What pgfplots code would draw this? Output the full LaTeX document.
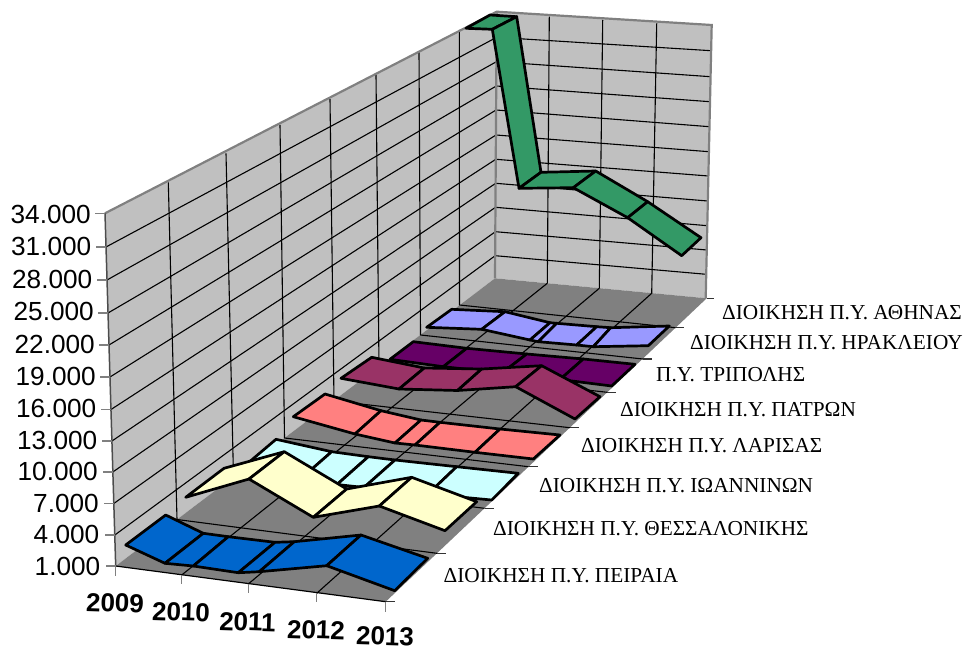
\documentclass[border=0pt]{standalone}
\usepackage{fontspec}
\setmainfont{Liberation Serif}
\newfontfamily\arialf{Liberation Sans}
\usepackage{pgfplots}
\pgfplotsset{compat=1.18}
\definecolor{wallc}{HTML}{C0C0C0}
\definecolor{floorc}{HTML}{808080}
\definecolor{cgreen}{HTML}{339966}
\definecolor{clav}{HTML}{9999FF}
\definecolor{cpurple}{HTML}{660066}
\definecolor{cplum}{HTML}{993366}
\definecolor{csalmon}{HTML}{FF8080}
\definecolor{ccyan}{HTML}{CCFFFF}
\definecolor{cyellow}{HTML}{FFFFCC}
\definecolor{cblue}{HTML}{0066CC}
% one ribbon panel: front-left, back-left, back-right, front-right
\newcommand{\pnl}[5]{\addplot[fill=#1,draw=black,line width=2.7bp,line join=round] coordinates {(#2)(#3)(#4)(#5)} -- cycle;}
\newcommand{\gl}[2]{\addplot[black,line width=1.1bp] coordinates {(#1)(#2)};}
\newcommand{\tk}[2]{\addplot[floorc,line width=1.5bp] coordinates {(#1)(#2)};}
\newcommand{\tr}[2]{\addplot[black!80,line width=1.1bp] coordinates {(#1)(#2)};}
\newcommand{\ser}[2]{\node[anchor=west,font=\fontsize{21.3bp}{24bp}\selectfont,inner sep=0pt] at (axis cs:#1) {#2};}
\newcommand{\vall}[2]{\node[anchor=east,font=\fontsize{26.2bp}{30bp}\selectfont\arialf,inner sep=0pt] at (axis cs:#1) {#2};}
\newcommand{\yr}[2]{\node[anchor=center,rotate=-1.8,font=\fontsize{26bp}{30bp}\selectfont\arialf\bfseries,inner sep=0pt] at (axis cs:#1) {#2};}
\begin{document}
\begin{tikzpicture}
\begin{axis}[scale only axis,width=968bp,height=649bp,xmin=0,xmax=968,ymin=0,ymax=649,y dir=reverse,hide axis,clip=false]
% walls and floor
\addplot[fill=wallc,draw=none] coordinates {(105,213.3)(496.7,11.7)(495,278.3)(115.7,566)} -- cycle;
\addplot[fill=wallc,draw=none] coordinates {(496.7,11.7)(711.7,25)(705.7,298.3)(495,278.3)} -- cycle;
\addplot[fill=floorc,draw=none] coordinates {(115.7,566)(385.7,601.7)(706.7,298.3)(495,278.3)} -- cycle;
% left wall horizontals
\gl{114.8,535}{495.2,255.7}
\gl{113.8,503.5}{495.4,231.7}
\gl{112.8,472}{495.5,207.3}
\gl{111.9,441}{495.7,183.3}
\gl{111,409.5}{495.8,159.3}
\gl{110,377}{496,135}
\gl{109,345}{496.1,110}
\gl{108,313}{496.3,86}
\gl{107,280}{496.4,61.7}
\gl{106,247}{496.6,37.3}
% left wall verticals
\gl{168.3,182.3}{177,519.5}
\gl{226,153.3}{233.5,477}
\gl{280,125}{284.5,438}
\gl{330,99}{334,401}
\gl{376,75}{379,366.6}
\gl{419,51.7}{420.5,335}
\gl{459.3,30}{459.5,305}
% back wall horizontals
\gl{495.2,255.7}{706.2,274.3}
\gl{495.4,231.7}{706.8,250}
\gl{495.5,207.3}{707.3,225.7}
\gl{495.7,183.3}{707.8,201}
\gl{495.8,159.3}{708.4,176}
\gl{496,135}{708.9,151.7}
\gl{496.1,110}{709.5,126.7}
\gl{496.3,86}{710,101.7}
\gl{496.4,61.7}{710.6,76.7}
\gl{496.6,37.3}{711.1,50.7}
% back wall verticals
\gl{549.3,16.7}{547.3,283.3}
\gl{602.7,20}{599.3,288.3}
\gl{656.7,23.3}{651.7,293.3}
% wall edges
\addplot[floorc,line width=2.2bp] coordinates {(105,213.3)(496.7,11.7)(711.7,25)(705.7,298.3)};
\addplot[floorc,line width=2.2bp] coordinates {(496.7,11.7)(495,278.3)};
\addplot[black!70,line width=1.5bp] coordinates {(105,213.3)(115.7,566)};
% floor lines (years)
\gl{547.3,283.3}{181.7,575}
\gl{599.3,288.3}{248.3,584}
\gl{651.7,293.3}{316.7,593.3}
% floor lines (series)
\gl{177,519.5}{436.9,553.3}
\gl{233.5,477}{484.5,508.3}
\gl{284.5,438}{528.5,466.7}
\gl{334,401}{569.8,427.7}
\gl{379,366.6}{607.2,392.3}
\gl{420.5,335}{642.9,359}
\gl{459.5,305}{675.6,327.7}
\addplot[black,line width=1.2bp] coordinates {(115.7,566)(385.7,601.7)};
% ticks
\tk{106,566}{115.7,566}\tk{105.2,535}{114.8,535}\tk{104.2,503.5}{113.8,503.5}\tk{103.2,472}{112.8,472}
\tk{102.3,441}{111.9,441}\tk{101.4,409.5}{111,409.5}\tk{100.4,377}{110,377}\tk{99.4,345}{109,345}
\tk{98.4,313}{108,313}\tk{97.4,280}{107,280}\tk{96.4,247}{106,247}\tk{95,213.3}{105,213.3}
\tk{115.7,566}{115.7,575.7}\tk{181.7,575}{181.7,584}\tk{248.3,584}{248.3,593.3}\tk{316.7,593.3}{316.7,602.3}\tk{385.7,601.7}{385.7,611.7}
\tr{385.7,601.7}{395,601.7}\tr{436.9,553.3}{446,553.3}\tr{484.5,508.3}{494.3,508.3}\tr{528.5,466.7}{537.7,466.7}
\tr{569.8,427.7}{579,427.7}\tr{607.2,392.3}{616,392.3}\tr{642.9,359}{651.7,359}\tr{675.6,327.7}{684,327.7}\tr{706.7,298.3}{714.3,298.3}
% green
\pnl{cgreen}{466,28.3}{490,15}{516.7,16.7}{492.3,29.3}
\pnl{cgreen}{492.3,29.3}{516.7,16.7}{541,172.3}{519,188.3}
\pnl{cgreen}{519,188.3}{541,172.3}{595.7,171}{573.3,187.7}
\pnl{cgreen}{573.3,187.7}{595.7,171}{647.7,201.7}{627.7,217.7}
\pnl{cgreen}{627.7,217.7}{647.7,201.7}{701,237.7}{681.7,255.7}
% lavender
\pnl{clav}{426.7,327.3}{451.7,309.3}{505,311.7}{481.7,329.3}
\pnl{clav}{481.7,329.3}{505,311.7}{550,322.7}{530,340}
\pnl{clav}{530,340}{550,322.7}{556.7,323.3}{538.3,341.7}
\pnl{clav}{538.3,341.7}{556.7,323.3}{596.7,326.7}{576.7,345}
\pnl{clav}{576.7,345}{596.7,326.7}{610.7,327.7}{593.3,346.7}
\pnl{clav}{593.3,346.7}{610.7,327.7}{669.3,326}{648.3,345.7}
% purple
\pnl{cpurple}{390,359.3}{413.3,341.7}{466.7,348.3}{443.3,366.7}
\pnl{cpurple}{443.3,366.7}{466.7,348.3}{526.7,354}{502,373}
\pnl{cpurple}{502,373}{526.7,354}{583.3,359}{560,379.5}
\pnl{cpurple}{560,379.5}{583.3,359}{635,364.3}{611.7,386}
% plum
\pnl{cplum}{341,378.3}{371.7,357.3}{424.3,368}{399,389}
\pnl{cplum}{399,389}{424.3,368}{481.7,369}{457.5,390.5}
\pnl{cplum}{457.5,390.5}{481.7,369}{541.7,365.7}{515.7,386.7}
\pnl{cplum}{515.7,386.7}{541.7,365.7}{600,396.7}{575,419}
% salmon
\pnl{csalmon}{293.3,416.7}{325,394}{381,410.7}{355,434}
\pnl{csalmon}{355,434}{381,410.7}{421,420}{395,443}
\pnl{csalmon}{395,443}{421,420}{440,422.3}{415,445}
\pnl{csalmon}{415,445}{440,422.3}{500,429}{475,452.3}
\pnl{csalmon}{475,452.3}{500,429}{560,435}{533.3,459}
% cyan
\pnl{ccyan}{243,467.3}{276,439.3}{331.7,451.7}{300,479.5}
\pnl{ccyan}{300,479.5}{331.7,451.7}{368.3,456.7}{337,484.5}
\pnl{ccyan}{337,484.5}{368.3,456.7}{395,460}{364,487.5}
\pnl{ccyan}{364,487.5}{395,460}{456.7,466.7}{428,494}
\pnl{ccyan}{428,494}{456.7,466.7}{518.3,473.3}{491.7,500}
% yellow
\pnl{cyellow}{185.7,497.3}{224,468.3}{284.3,451.7}{249,479}
\pnl{cyellow}{249,479}{284.3,451.7}{346.7,489}{313.3,517.3}
\pnl{cyellow}{313.3,517.3}{346.7,489}{411.7,477.3}{379.3,506}
\pnl{cyellow}{379.3,506}{411.7,477.3}{476.7,501.7}{445,530.7}
% blue
\pnl{cblue}{125.7,545}{165.7,515}{203.3,533.3}{165,563.3}
\pnl{cblue}{165,563.3}{203.3,533.3}{228.3,536.7}{193.3,566}
\pnl{cblue}{193.3,566}{228.3,536.7}{275,542.3}{238.3,572.7}
\pnl{cblue}{238.3,572.7}{275,542.3}{294.3,541.7}{259.3,571.7}
\pnl{cblue}{259.3,571.7}{294.3,541.7}{361,535}{326.7,565.7}
\pnl{cblue}{326.7,565.7}{361,535}{427.7,558.3}{394.7,590.7}
% labels
\vall{91,214}{34.000}\vall{91.5,246}{31.000}\vall{92.5,279}{28.000}\vall{94,311}{25.000}
\vall{95,344}{22.000}\vall{96,376}{19.000}\vall{96.5,408.5}{16.000}\vall{97.5,440}{13.000}
\vall{98,471.5}{10.000}\vall{99,503}{7.000}\vall{99.5,534.5}{4.000}\vall{100.5,566}{1.000}
\yr{115,603}{2009}\yr{181,612}{2010}\yr{247.5,622}{2011}\yr{316,630}{2012}\yr{385,636.5}{2013}
\ser{722,313}{ΔΙΟΙΚΗΣΗ Π.Υ. ΑΘΗΝΑΣ}
\ser{690,342.5}{ΔΙΟΙΚΗΣΗ Π.Υ. ΗΡΑΚΛΕΙΟΥ}
\ser{656,375}{Π.Υ. ΤΡΙΠΟΛΗΣ}
\ser{620,409.5}{ΔΙΟΙΚΗΣΗ Π.Υ. ΠΑΤΡΩΝ}
\ser{581,446}{ΔΙΟΙΚΗΣΗ Π.Υ. ΛΑΡΙΣΑΣ}
\ser{539,486}{ΔΙΟΙΚΗΣΗ Π.Υ. ΙΩΑΝΝΙΝΩΝ}
\ser{493,529}{ΔΙΟΙΚΗΣΗ Π.Υ. ΘΕΣΣΑΛΟΝΙΚΗΣ}
\ser{443.5,576}{ΔΙΟΙΚΗΣΗ Π.Υ. ΠΕΙΡΑΙΑ}
\end{axis}
\path (0,0) rectangle (968bp,649bp);
\end{tikzpicture}
\end{document}
